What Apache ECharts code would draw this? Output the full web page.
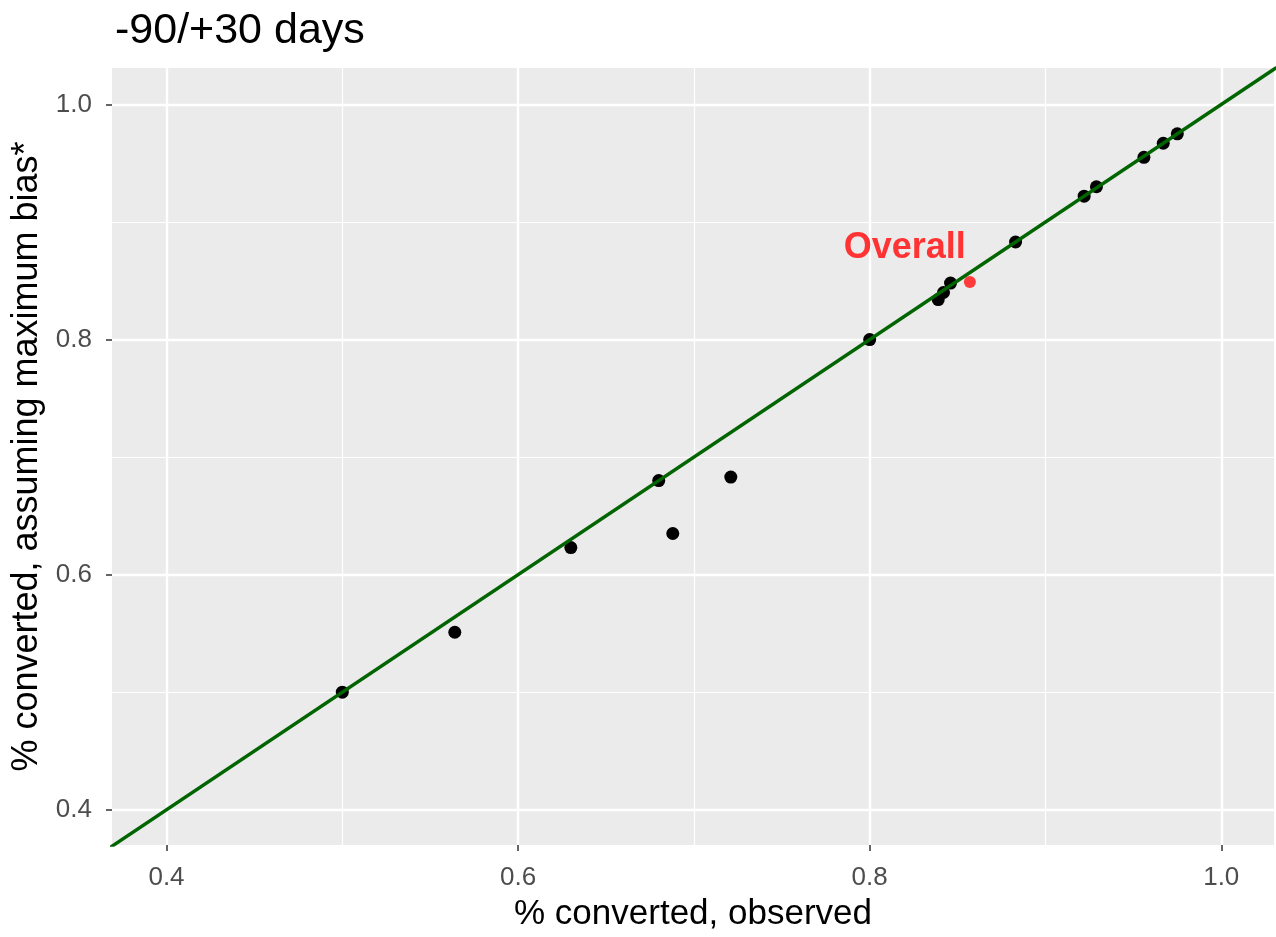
<!DOCTYPE html>
<html>
<head>
<meta charset="utf-8">
<script src="https://cdn.jsdelivr.net/npm/echarts@6/dist/echarts.min.js"></script>
<style>
  html, body { margin: 0; padding: 0; background: #fff; }
  #chart { width: 1276px; height: 937px; }
</style>
</head>
<body>
<div id="chart"></div>
<script>
  // observed vs. max-bias conversion rates
  var observed = [0.500, 0.564, 0.630, 0.680, 0.688, 0.721, 0.800, 0.839, 0.842, 0.846, 0.883, 0.922, 0.929, 0.956, 0.967, 0.975];
  var maxBias  = [0.500, 0.551, 0.623, 0.680, 0.635, 0.683, 0.800, 0.834, 0.840, 0.848, 0.883, 0.922, 0.930, 0.955, 0.967, 0.975];
  var overall = [0.857, 0.849];
  var overallLabelAt = [0.820, 0.878];
  var identityLine = [0.3, 1.1];
  var majorTicks = [0.4, 0.6, 0.8, 1.0];
  var minorTicks = [0.5, 0.7, 0.9];
  var xLimits = [0.369, 1.030];
  var yLimits = [0.370, 1.031];

  var font = 'Arial, "Liberation Sans", sans-serif';
  var points = observed.map(function (x, i) { return [x, maxBias[i]]; });
  var lineData = identityLine.map(function (v) { return [v, v]; });

  function labelFmt(v) { return v.toFixed(1); }

  function majorAxis(lim, extra) {
    var ax = {
      type: 'value',
      min: lim[0],
      max: lim[1],
      axisLine: { show: false },
      axisTick: { show: true, length: 6, customValues: majorTicks, lineStyle: { color: '#333', width: 1.5 } },
      splitLine: { show: true, lineStyle: { color: '#fff', width: 2.4 } }
    };
    for (var k in extra) ax[k] = extra[k];
    return ax;
  }
  function minorAxis(lim, extra) {
    var ax = {
      type: 'value',
      min: lim[0],
      max: lim[1],
      axisLine: { show: false },
      axisTick: { show: false, customValues: minorTicks },
      axisLabel: { show: false, customValues: minorTicks },
      splitLine: { show: true, lineStyle: { color: '#fff', width: 1.2 } }
    };
    for (var k in extra) ax[k] = extra[k];
    return ax;
  }

  var chart = echarts.init(document.getElementById('chart'));
  var option = {
    animation: false,
    backgroundColor: '#fff',
    title: {
      text: '-90/+30 days',
      left: 110,
      top: 5,
      textStyle: { fontSize: 43, fontWeight: 'normal', color: '#000', fontFamily: font }
    },
    grid: {
      left: 112, right: 2, top: 68, bottom: 92,
      show: true, backgroundColor: '#EBEBEB', borderWidth: 0
    },
    xAxis: [
      majorAxis(xLimits, {
        position: 'bottom',
        name: '% converted, observed',
        nameLocation: 'middle',
        nameGap: 52,
        nameTextStyle: { fontSize: 35, color: '#000', fontFamily: font },
        axisLabel: { customValues: majorTicks, formatter: labelFmt, color: '#4D4D4D', fontSize: 26, fontFamily: font, margin: 20 }
      }),
      minorAxis(xLimits, { position: 'bottom' })
    ],
    yAxis: [
      majorAxis(yLimits, {
        position: 'left',
        name: '% converted, assuming maximum bias*',
        nameLocation: 'middle',
        nameGap: 63,
        nameTextStyle: { fontSize: 36, color: '#000', fontFamily: font },
        axisLabel: { customValues: majorTicks, formatter: labelFmt, color: '#4D4D4D', fontSize: 26, fontFamily: font, margin: 20 }
      }),
      minorAxis(yLimits, { position: 'left' })
    ],
    series: [
      {
        name: 'groups',
        type: 'scatter',
        data: points,
        symbolSize: 13,
        itemStyle: { color: '#000', opacity: 1 },
        z: 3
      },
      {
        name: 'overall',
        type: 'scatter',
        data: [overall],
        symbolSize: 12,
        itemStyle: { color: '#FF3B3B', opacity: 1 },
        z: 3
      },
      {
        name: 'overallLabel',
        type: 'scatter',
        data: [overallLabelAt],
        symbolSize: 0,
        itemStyle: { opacity: 1 },
        label: {
          show: true,
          position: 'inside',
          formatter: 'Overall',
          color: '#FF3333',
          opacity: 1,
          fontSize: 36,
          fontWeight: 'bold',
          fontFamily: font
        },
        z: 4
      },
      {
        name: 'identity',
        type: 'line',
        data: lineData,
        showSymbol: false,
        clip: true,
        lineStyle: { color: '#006400', width: 3.5 },
        z: 5
      }
    ]
  };
  chart.setOption(option);
</script>
</body>
</html>
